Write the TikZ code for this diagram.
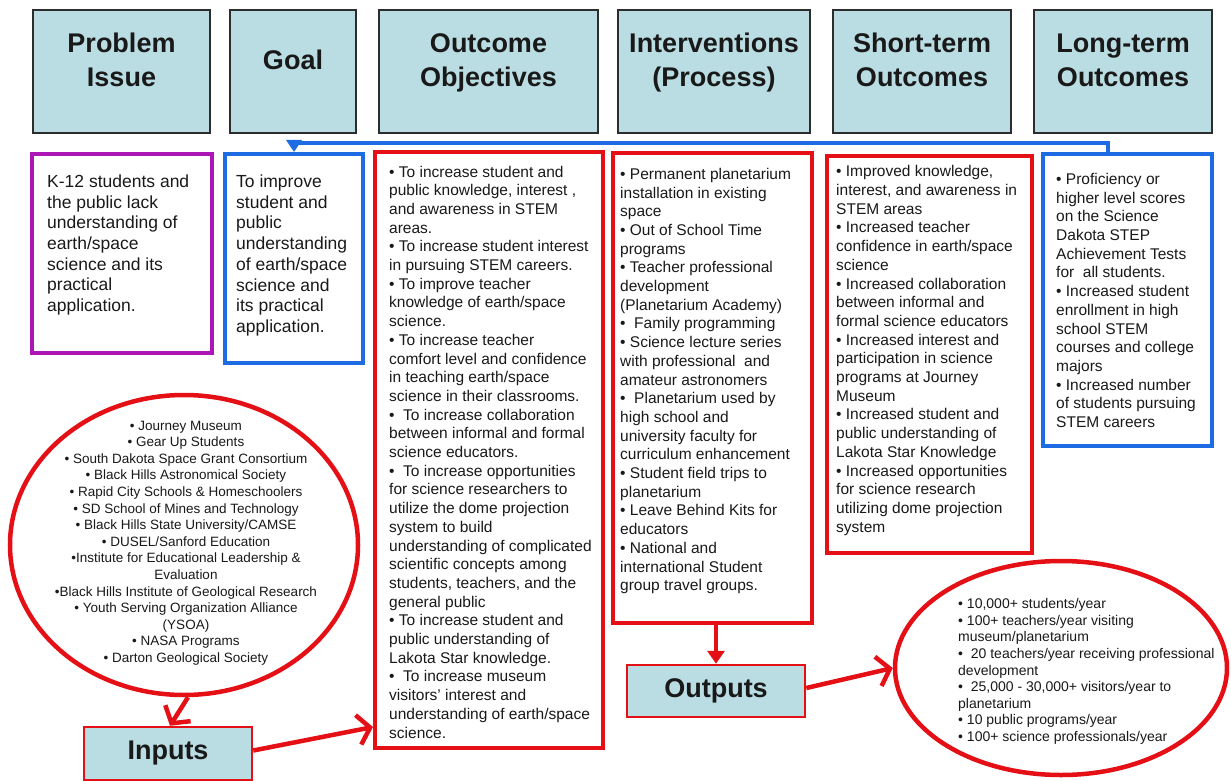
\documentclass[tikz,border=0pt]{standalone}
\usepackage{fontspec}
\setmainfont{Liberation Sans}
\usepackage{tikz}
\usetikzlibrary{arrows.meta,shapes.geometric}

\definecolor{headfill}{RGB}{186,221,227}
\definecolor{headline}{RGB}{45,45,45}
\definecolor{lmred}{RGB}{228,16,22}
\definecolor{lmblue}{RGB}{30,108,228}
\definecolor{lmpurple}{RGB}{172,22,182}
\definecolor{ink}{RGB}{25,25,25}

\tikzset{
  head/.style={draw=headline, line width=1.6pt, fill=headfill, text=ink,
    font=\fontsize{27}{34}\selectfont\bfseries, align=center, text depth=23pt,
    minimum height=123pt, inner sep=0pt},
  frame/.style={line width=4pt, inner sep=0pt},
  listtxt/.style={align=left, anchor=west, inner sep=0pt, text=ink,
    font=\fontsize{15.5}{18.7}\selectfont},
  bigtxt/.style={listtxt, font=\fontsize{17.5}{20.7}\selectfont},
  ring/.style={draw=lmred, ellipse, line width=4.5pt, inner sep=0pt},
  ringtxt/.style={inner sep=0pt, text=ink, font=\fontsize{13.5}{16.6}\selectfont},
  tag/.style={draw=lmred, line width=2.5pt, fill=headfill, text=ink,
    font=\fontsize{27}{34}\selectfont\bfseries, inner sep=0pt},
  flow/.style={draw=lmred, line width=4.5pt, -{Straight Barb[length=12pt,width=30pt]}},
  drop/.style={draw=lmred, line width=4pt, -{Triangle[length=13pt,width=17pt]}},
  feedback/.style={draw=lmblue, line width=4pt, -{Triangle[length=12pt,width=15pt]}},
}

\begin{document}
\begin{tikzpicture}[x=1pt,y=-1pt]
\useasboundingbox[fill=white] (0,0) rectangle (1231,781);

% column heads
\node[head, minimum width=177pt] (hprob)  at (121.5,71.5) {Problem\\Issue};
\node[head, minimum width=126pt] (hgoal)  at (293,71.5)   {Goal};
\node[head, minimum width=219pt] (houtc)  at (488.5,71.5) {Outcome\\Objectives};
\node[head, minimum width=192pt] (hint)   at (714,71.5)   {Interventions\\(Process)};
\node[head, minimum width=178pt] (hshort) at (922,71.5)   {Short-term\\Outcomes};
\node[head, minimum width=178pt] (hlong)  at (1123,71.5)  {Long-term\\Outcomes};

% column frames
\node[frame, draw=lmpurple, minimum width=180pt, minimum height=199pt] (probbox)  at (122,253.5) {};
\node[frame, draw=lmblue,   minimum width=138pt, minimum height=209pt] (goalbox)  at (294,258.5) {};
\node[frame, draw=lmred,    minimum width=228pt, minimum height=596pt] (outbox)   at (489,450)   {};
\node[frame, draw=lmred,    minimum width=199pt, minimum height=470pt] (intbox)   at (712.5,388) {};
\node[frame, draw=lmred,    minimum width=205pt, minimum height=397pt] (shortbox) at (929.5,354.5) {};
\node[frame, draw=lmblue,   minimum width=169pt, minimum height=292pt] (longbox)  at (1127.5,300) {};

% column texts
\node[bigtxt] (probtxt) at (47,245) {K-12 students and\\the public lack\\understanding of\\earth/space\\science and its\\practical\\application.};
\node[bigtxt] (goaltxt) at (236,255.5) {To improve\\student and\\public\\understanding\\of earth/space\\science and\\its practical\\application.};
\node[listtxt] (outtxt) at (389,452) {• To increase student and\\public knowledge, interest ,\\and awareness in STEM\\areas.\\• To increase student interest\\in pursuing STEM careers.\\• To improve teacher\\knowledge of earth/space\\science.\\• To increase teacher\\comfort level and confidence\\in teaching earth/space\\science in their classrooms.\\• \ To increase collaboration\\between informal and formal\\science educators.\\• \ To increase opportunities\\for science researchers to\\utilize the dome projection\\system to build\\understanding of complicated\\scientific concepts among\\students, teachers, and the\\general public\\• To increase student and\\public understanding of\\Lakota Star knowledge.\\• \ To increase museum\\visitors' interest and\\understanding of earth/space\\science.};
\node[listtxt] (inttxt) at (620,381) {• Permanent planetarium\\installation in existing\\space\\• Out of School Time\\programs\\• Teacher professional\\development\\(Planetarium Academy)\\• \ Family programming\\• Science lecture series\\with professional \ and\\amateur astronomers\\• \ Planetarium used by\\high school and\\university faculty for\\curriculum enhancement\\• Student field trips to\\planetarium\\• Leave Behind Kits for\\educators\\• National and\\international Student\\group travel groups.};
\node[listtxt] (shorttxt) at (836,350.5) {• Improved knowledge,\\interest, and awareness in\\STEM areas\\• Increased teacher\\confidence in earth/space\\science\\• Increased collaboration\\between informal and\\formal science educators\\• Increased interest and\\participation in science\\programs at Journey\\Museum\\• Increased student and\\public understanding of\\Lakota Star Knowledge\\• Increased opportunities\\for science research\\utilizing dome projection\\system};
\node[listtxt] (longtxt) at (1056,300.5) {• Proficiency or\\higher level scores\\on the Science\\Dakota STEP\\Achievement Tests\\for \ all students.\\• Increased student\\enrollment in high\\school STEM\\courses and college\\majors\\• Increased number\\of students pursuing\\STEM careers};

% partners and outputs
\node[ring, minimum width=348pt, minimum height=300pt] (inring) at (184,545) {};
\node[ringtxt, align=center] (intxt) at (186,543) {• Journey Museum\\• Gear Up Students\\• South Dakota Space Grant Consortium\\• Black Hills Astronomical Society\\• Rapid City Schools \& Homeschoolers\\• SD School of Mines and Technology\\• Black Hills State University/CAMSE\\• DUSEL/Sanford Education\\•Institute for Educational Leadership \&\\Evaluation\\•Black Hills Institute of Geological Research\\• Youth Serving Organization Alliance\\(YSOA)\\• NASA Programs\\• Darton Geological Society};
\node[tag, minimum width=168pt, minimum height=53pt] (inbox) at (168,753.5) {Inputs};

\node[tag, minimum width=178pt, minimum height=52pt] (outpbox) at (716,691) {Outputs};
\node[ring, minimum width=332pt, minimum height=214pt] (outring) at (1061,668) {};
\node[ringtxt, font=\fontsize{14}{16.6}\selectfont, align=left, anchor=west] (outptxt) at (958,671.5) {• 10,000+ students/year\\• 100+ teachers/year visiting\\museum/planetarium\\• \ 20 teachers/year receiving professional\\development\\• \ 25,000 - 30,000+ visitors/year to\\planetarium\\• 10 public programs/year\\• 100+ science professionals/year};

% connectors
\draw[feedback] ([xshift=-20pt]longbox.north) |- ([yshift=9pt]goalbox.north) -- (goalbox.north);
\draw[flow] ([xshift=4pt]inring.south) -- ([xshift=2pt]inbox.north);
\draw[flow] ([yshift=3pt]inbox.east) -- ([yshift=23pt]outbox.south west);
\draw[drop] (intbox.south -| outpbox.north) -- (outpbox.north);
\draw[flow] ([yshift=3pt]outpbox.east) -- (outring.west);
\end{tikzpicture}
\end{document}
